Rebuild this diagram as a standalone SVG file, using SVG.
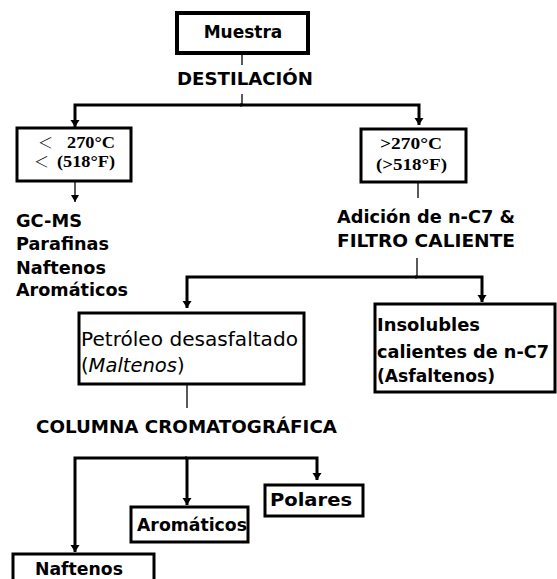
<svg xmlns="http://www.w3.org/2000/svg" width="557" height="579" viewBox="0 0 557 579">
<style>
  .box { fill: #fff; stroke: #000; stroke-width: 3; }
  .thick { fill: none; stroke: #000; stroke-width: 3; }
  .thin { fill: none; stroke: #000; stroke-width: 1.3; }
  .b { font-family: "DejaVu Sans", Verdana, sans-serif; font-weight: bold; fill: #000; }
  .r { font-family: "DejaVu Sans", Verdana, sans-serif; font-weight: normal; fill: #000; }
  .s { font-family: "Liberation Serif", "Times New Roman", serif; font-weight: bold; font-size: 16px; fill: #000; }
  .lt { font-family: "Noto Sans CJK JP", sans-serif; font-weight: 300; font-size: 15px; fill: #000; }
</style>
<defs>
  <marker id="ah" markerUnits="userSpaceOnUse" markerWidth="10" markerHeight="10" refX="7" refY="4.5" orient="auto">
    <path d="M0,0 L7,4.5 L0,9 z" fill="#000"/>
  </marker>
  <marker id="ahs" markerUnits="userSpaceOnUse" markerWidth="10" markerHeight="10" refX="7" refY="4" orient="auto">
    <path d="M0,0 L7,4 L0,8 z" fill="#000"/>
  </marker>
</defs>

<g id="connectors">
  <line class="thin" x1="242" y1="53" x2="242" y2="65"/>
  <line class="thin" x1="242" y1="94" x2="242" y2="105"/>
  <path class="thick" d="M242,105 H75 V127" marker-end="url(#ah)"/>
  <path class="thick" d="M240,105 H419 V125" marker-end="url(#ah)"/>
  <line class="thin" x1="75" y1="181" x2="75" y2="202" marker-end="url(#ahs)"/>
  <line class="thin" x1="418" y1="182" x2="418" y2="198"/>
  <line class="thin" x1="417" y1="258" x2="417" y2="277"/>
  <path class="thick" d="M417,277 H187 V308" marker-end="url(#ah)"/>
  <path class="thick" d="M415,277 H482 V302" marker-end="url(#ah)"/>
  <line class="thin" x1="187" y1="384" x2="187" y2="408"/>
  <path class="thick" d="M187,458 H75 V552" marker-end="url(#ah)"/>
  <path class="thick" d="M187,458 V505" marker-end="url(#ah)"/>
  <path class="thick" d="M185,458 H317 V480" marker-end="url(#ah)"/>
</g>

<g id="muestra">
  <rect x="177" y="13" width="131" height="40" fill="#fff" stroke="#000" stroke-width="4"/>
  <text class="b" x="243" y="38" font-size="17" text-anchor="middle">Muestra</text>
</g>

<g id="destilacion">
  <text class="b" x="177" y="85" font-size="18" textLength="136" lengthAdjust="spacingAndGlyphs">DESTILACIÓN</text>
</g>

<g id="menor270">
  <rect class="box" x="17" y="128" width="114" height="53"/>
  <text class="lt" x="38" y="148">＜</text>
  <text class="s" x="67" y="148" textLength="48" lengthAdjust="spacingAndGlyphs">270°C</text>
  <text class="lt" x="34" y="167">＜</text>
  <text class="s" x="57" y="167" textLength="58" lengthAdjust="spacingAndGlyphs">(518°F)</text>
</g>

<g id="mayor270">
  <rect class="box" x="361" y="129" width="105" height="53"/>
  <text class="s" x="380" y="149" textLength="62" lengthAdjust="spacingAndGlyphs">&gt;270°C</text>
  <text class="s" x="376" y="170" textLength="71" lengthAdjust="spacingAndGlyphs">(&gt;518°F)</text>
</g>

<g id="gcms">
  <text class="b" x="16" y="227" font-size="17.5" textLength="66" lengthAdjust="spacingAndGlyphs">GC-MS</text>
  <text class="b" x="16" y="250" font-size="17.5" textLength="93" lengthAdjust="spacingAndGlyphs">Parafinas</text>
  <text class="b" x="16" y="274" font-size="17.5" textLength="90" lengthAdjust="spacingAndGlyphs">Naftenos</text>
  <text class="b" x="16" y="296" font-size="17.5" textLength="112" lengthAdjust="spacingAndGlyphs">Aromáticos</text>
</g>

<g id="adicion">
  <text class="b" x="337" y="223" font-size="18" textLength="178" lengthAdjust="spacingAndGlyphs">Adición de n-C7 &amp;</text>
  <text class="b" x="337" y="247" font-size="18" textLength="178" lengthAdjust="spacingAndGlyphs">FILTRO CALIENTE</text>
</g>

<g id="maltenos">
  <rect class="box" x="79" y="313" width="225" height="71"/>
  <text class="r" x="81" y="346" font-size="19.5" textLength="217" lengthAdjust="spacingAndGlyphs">Petróleo desasfaltado</text>
  <text class="r" x="81" y="372" font-size="19.5">(<tspan font-style="italic">Maltenos</tspan>)</text>
</g>

<g id="asfaltenos">
  <rect class="box" x="375" y="304" width="180" height="88"/>
  <text class="b" x="377" y="331" font-size="17.5" textLength="103" lengthAdjust="spacingAndGlyphs">Insolubles</text>
  <text class="b" x="377" y="358" font-size="17.5" textLength="172" lengthAdjust="spacingAndGlyphs">calientes de n-C7</text>
  <text class="b" x="377" y="382" font-size="17.5" textLength="118" lengthAdjust="spacingAndGlyphs">(Asfaltenos)</text>
</g>

<g id="columna">
  <text class="b" x="36" y="433" font-size="18" textLength="301" lengthAdjust="spacingAndGlyphs">COLUMNA CROMATOGRÁFICA</text>
</g>

<g id="polares">
  <rect class="box" x="265" y="485" width="98" height="31"/>
  <text class="b" x="270" y="506" font-size="18" textLength="82" lengthAdjust="spacingAndGlyphs">Polares</text>
</g>

<g id="aromaticos">
  <rect class="box" x="131" y="507" width="117" height="35"/>
  <text class="b" x="137" y="531" font-size="17.5" textLength="110" lengthAdjust="spacingAndGlyphs">Aromáticos</text>
</g>

<g id="naftenos">
  <rect class="box" x="13" y="554" width="141" height="40"/>
  <text class="b" x="35" y="575" font-size="17" textLength="88" lengthAdjust="spacingAndGlyphs">Naftenos</text>
</g>
</svg>
